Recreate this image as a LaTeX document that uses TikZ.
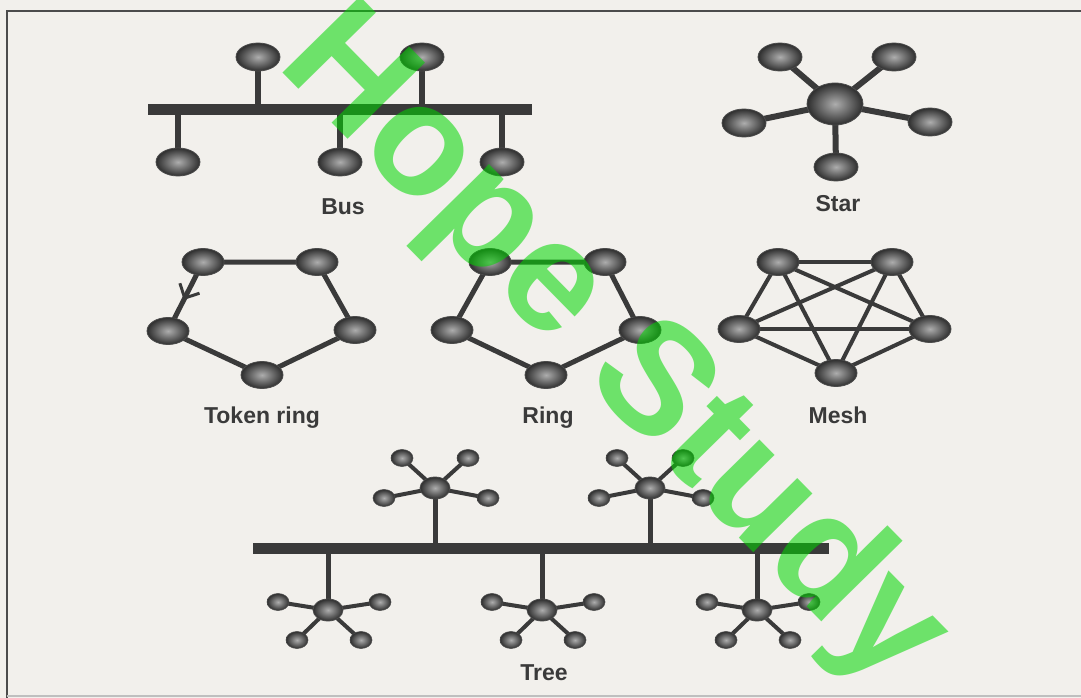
\documentclass[tikz,border=0pt]{standalone}
\usepackage{fontspec}
\setmainfont{Liberation Sans}
\usetikzlibrary{shapes.geometric,calc,decorations.markings,arrows.meta}
\pgfdeclarelayer{back}
\pgfdeclarelayer{bg}
\pgfdeclarelayer{top}
\pgfsetlayers{back,bg,main,top}
\definecolor{paper}{HTML}{F2F0EC}
\definecolor{ink}{HTML}{3A3A3A}
\definecolor{wm}{RGB}{0,215,0}
\tikzset{
  ball/.style={ellipse, shade, inner color=black!32, outer color=black!82, draw=black!70, line width=0.8pt, inner sep=0pt},
  bignode/.style={ball, minimum width=44pt, minimum height=28pt},
  hubnode/.style={ball, minimum width=56pt, minimum height=42pt},
  ringnode/.style={ball, minimum width=42pt, minimum height=27pt},
  tinyhub/.style={ball, minimum width=30pt, minimum height=22pt},
  tinyleaf/.style={ball, minimum width=22pt, minimum height=17pt, line width=0.6pt},
  link/.style={draw=ink, line width=5pt},
  thinlink/.style={draw=ink, line width=4pt},
  busbar/.style={draw=ink, line width=11pt},
  caption/.style={text=ink, font=\fontsize{23}{23}\selectfont\bfseries},
  frameline/.style={draw=black!70, line width=2pt},
  tokenarrow/.style={postaction={decorate}, decoration={markings, mark=at position 0.55 with {\arrow[ink, line width=3pt]{Straight Barb[length=11pt, width=22pt]}}}}
}
\begin{document}
\begin{tikzpicture}[x=1pt, y=-1pt]
\useasboundingbox (0,0) rectangle (1081,698);
\begin{pgfonlayer}{back}
  \fill[paper] (0,0) rectangle (1081,698);
  \coordinate (fTL) at (7,11);
  \coordinate (fTR) at (1081,11);
  \coordinate (fBL) at (7,698);
  \draw[frameline] (fTR) -- (fTL) -- (fBL);
  \draw[draw=black!25, line width=1.5pt] (7,696) -- (1081,696);
\end{pgfonlayer}

% ---------- Bus ----------
\coordinate (busL) at (148,110);
\coordinate (busR) at (532,110);
\node[bignode] (b1) at (258,57) {};
\node[bignode] (b2) at (422,57) {};
\node[bignode] (b3) at (178,162) {};
\node[bignode] (b4) at (340,162) {};
\node[bignode] (b5) at (502,162) {};
\node[caption] (busl) at (343,207) {Bus};

% ---------- Star ----------
\node[hubnode] (s0) at (835,104) {};
\node[bignode] (s1) at (780,57) {};
\node[bignode] (s2) at (894,57) {};
\node[bignode] (s3) at (744,123) {};
\node[bignode] (s4) at (930,122) {};
\node[bignode] (s5) at (836,167) {};
\node[caption] (starl) at (838,204) {Star};

% ---------- Token ring ----------
\node[ringnode] (t1) at (203,262) {};
\node[ringnode] (t2) at (317,262) {};
\node[ringnode] (t3) at (168,331) {};
\node[ringnode] (t4) at (355,330) {};
\node[ringnode] (t5) at (262,375) {};
\node[caption] (tokl) at (262,418) {Token ring};

% ---------- Ring ----------
\node[ringnode] (r1) at (490,262) {};
\node[ringnode] (r2) at (605,262) {};
\node[ringnode] (r3) at (452,330) {};
\node[ringnode] (r4) at (640,330) {};
\node[ringnode] (r5) at (546,375) {};
\node[caption] (ringl) at (548,418) {Ring};

% ---------- Mesh ----------
\node[ringnode] (m1) at (778,262) {};
\node[ringnode] (m2) at (892,262) {};
\node[ringnode] (m3) at (739,329) {};
\node[ringnode] (m4) at (930,329) {};
\node[ringnode] (m5) at (836,373) {};
\node[caption] (meshl) at (838,415) {Mesh};

% ---------- Tree ----------
\coordinate (treeL) at (253,548);
\coordinate (treeR) at (829,548);
\node[tinyhub] (h1) at (435,488) {};
\node[tinyhub] (h2) at (650,488) {};
\node[tinyhub] (h3) at (328,610) {};
\node[tinyhub] (h4) at (542,610) {};
\node[tinyhub] (h5) at (757,610) {};
\foreach \h in {h1,h2}{
  \foreach \dx/\dy/\n in {-33/-30/a, 33/-30/b, -51/10/c, 53/10/d}{
    \node[tinyleaf] (\h\n) at ($(\h)+(\dx,\dy)$) {};
  }
}
\foreach \h in {h3,h4,h5}{
  \foreach \dx/\dy/\n in {-50/-8/a, 52/-8/b, -31/30/c, 33/30/d}{
    \node[tinyleaf] (\h\n) at ($(\h)+(\dx,\dy)$) {};
  }
}
\node[caption] (treel) at (544,673) {Tree};

% ---------- connectors ----------
\begin{pgfonlayer}{bg}
  % bus
  \draw[busbar] (busL) -- (busR);
  \foreach \n in {b1,b2,b3,b4,b5}{
    \draw[draw=ink, line width=6pt] (\n.center) -- (\n.center |- busL);
  }
  % star
  \foreach \n in {s1,s2,s3,s4,s5}{
    \draw[draw=ink, line width=6pt] (s0.center) -- (\n.center);
  }
  % token ring
  \draw[link] (t1.center) -- (t2.center) -- (t4.center) -- (t5.center) -- (t3.center);
  \draw[link, tokenarrow] (t1.center) -- (t3.center);
  % ring
  \draw[link] (r1.center) -- (r2.center) -- (r4.center) -- (r5.center) -- (r3.center) -- (r1.center);
  % mesh
  \foreach \a/\b in {m1/m2,m1/m3,m1/m4,m1/m5,m2/m3,m2/m4,m2/m5,m3/m4,m3/m5,m4/m5}{
    \draw[thinlink] (\a.center) -- (\b.center);
  }
  % tree
  \draw[busbar] (treeL) -- (treeR);
  \foreach \h in {h1,h2,h3,h4,h5}{
    \draw[thinlink, line width=5pt] (\h.center) -- (\h.center |- treeL);
    \foreach \n in {a,b,c,d}{
      \draw[thinlink] (\h.center) -- (\h\n.center);
    }
  }
\end{pgfonlayer}

% ---------- watermark ----------
\begin{pgfonlayer}{top}
  \node[text=wm, text opacity=0.55, rotate=-45.5, inner sep=0pt,
        font=\fontsize{158}{158}\selectfont\bfseries] (wmark) at (612,350) {Hope Study};
\end{pgfonlayer}
\end{tikzpicture}
\end{document}
